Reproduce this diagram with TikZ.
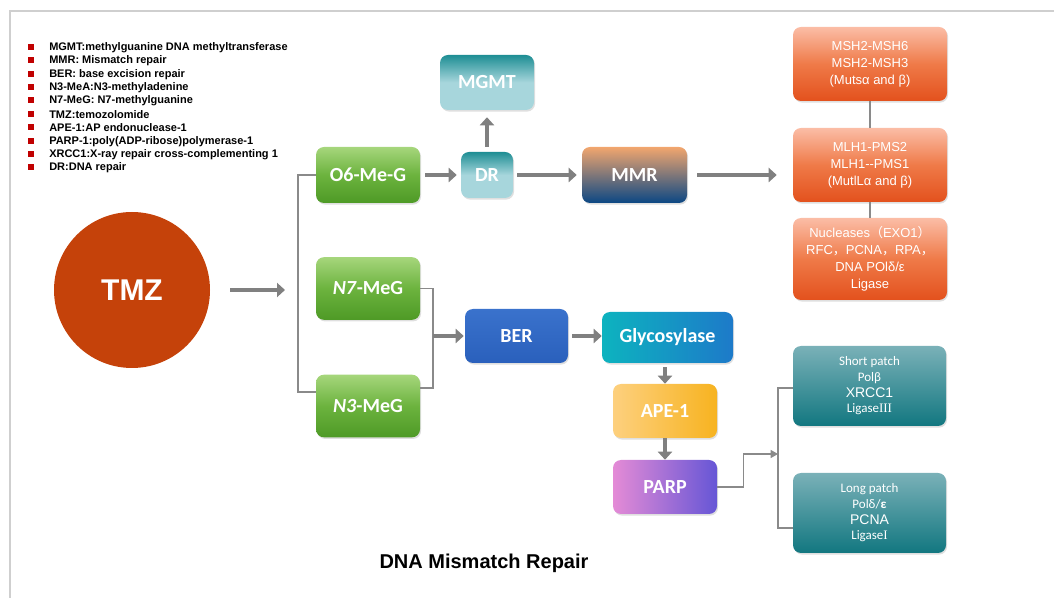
\documentclass[tikz,border=0pt]{standalone}
\usepackage{fontspec}
\setmainfont{Liberation Sans}
\newfontfamily\calib{Carlito}
\newfontfamily\arialf{Liberation Sans}
\newfontfamily\cjk{Noto Sans CJK SC}
\newfontfamily\serifrm{Liberation Serif}
\usepackage{xcolor}
\usepackage{tikz}
\usetikzlibrary{arrows.meta,shadows,calc}
\usetikzlibrary{positioning}

\definecolor{arrowgray}{HTML}{808080}
\definecolor{linegray}{HTML}{8A8A8A}
\definecolor{framegray}{HTML}{CFCFCF}
\definecolor{tmzred}{HTML}{C5420A}
\definecolor{legred}{HTML}{C00000}
\definecolor{greenT}{HTML}{A6D67C}
\definecolor{greenM}{HTML}{6CB33E}
\definecolor{greenB}{HTML}{4E9A26}
\definecolor{tealD}{HTML}{1E8E94}
\definecolor{tealL}{HTML}{A7D6DC}
\definecolor{mmrT}{HTML}{F2A66E}
\definecolor{mmrB}{HTML}{0B4784}
\definecolor{berT}{HTML}{3A72CC}
\definecolor{berB}{HTML}{2A60BC}
\definecolor{glyL}{HTML}{0DB3BF}
\definecolor{glyR}{HTML}{1D7AC9}
\definecolor{apeL}{HTML}{FDD07E}
\definecolor{apeR}{HTML}{F7B320}
\definecolor{parpL}{HTML}{E48BD6}
\definecolor{parpR}{HTML}{6656D6}
\definecolor{orgT}{HTML}{FBBDA6}
\definecolor{orgM}{HTML}{EF7A48}
\definecolor{orgB}{HTML}{E3511D}
\definecolor{patchT}{HTML}{7AB1B8}
\definecolor{patchB}{HTML}{127780}

\begin{document}
\begin{tikzpicture}[x=0.75pt,y=0.75pt,yscale=-1,xscale=1,
  box/.style={rectangle, rounded corners=6pt, inner sep=0pt, text=white,
    font=\calib\bfseries\fontsize{15}{18}\selectfont,
    drop shadow={opacity=0.25,shadow xshift=0.8pt,shadow yshift=-1.2pt}},
  greenbox/.style={box, top color=greenT, bottom color=greenB, middle color=greenM,
    minimum width=78pt, minimum height=47pt},
  tealbox/.style={box, top color=tealD, bottom color=tealL, middle color=tealL},
  orangebox/.style={box, top color=orgT, bottom color=orgB, middle color=orgM,
    minimum width=115.5pt, align=center, font=\arialf\fontsize{9.75}{12.75}\selectfont},
  patchbox/.style={box, top color=patchT, bottom color=patchB,
    minimum width=114.75pt, minimum height=60pt, align=center,
    font=\calib\fontsize{9.75}{11.7}\selectfont},
  fatarrow/.style={draw=arrowgray, line width=3.6pt, -{Triangle[length=6pt,width=10.5pt]}},
  thinline/.style={draw=linegray, line width=0.9pt},
  legbullet/.style={rectangle, fill=legred, minimum size=4.5pt, inner sep=0pt},
  legtext/.style={inner sep=0.75pt, font=\bfseries\fontsize{8.25}{10}\selectfont}]
\useasboundingbox (0,0) rectangle (1054,598);

%Straight Lines (frame)
\draw [framegray, line width=1.2pt] (10,598) -- (10,11) -- (1054,11) ;

% Legend
\foreach \legtxt [count=\i] in {{MGMT:methylguanine DNA methyltransferase},{MMR: Mismatch repair},
  {BER: base excision repair},{N3-MeA:N3-methyladenine},{N7-MeG: N7-methylguanine},
  {TMZ:temozolomide},{APE-1:AP endonuclease-1},{PARP-1:poly(ADP-ribose)polymerase-1},
  {XRCC1:X-ray repair cross-complementing 1},{DR:DNA repair}}{
  \node [legbullet] (bul\i) at (31,{33.5+13.4*\i}) {};
  \node [legtext, anchor=west] (leg\i) at (48,{34+13.4*\i}) {\legtxt};
}

%Shape: Circle
\node [circle, fill=tmzred, minimum size=117pt, inner sep=0pt, text=white,
  font=\bfseries\fontsize{22.5}{27}\selectfont] (tmz) at (132,290) {TMZ};

%Shape: Rounded Rects
\node [greenbox, minimum height=42pt] (o6) at (368,175) {O6-Me-G};
\node [greenbox] (n7) at (368,288.5) {\textit{N7}-MeG};
\node [greenbox] (n3) at (368,406) {\textit{N3}-MeG};
\node [tealbox, minimum width=39pt, minimum height=34.5pt] (dr) at (487,175) {DR};
\node [tealbox, minimum width=70.5pt, minimum height=41.25pt] (mgmt) at (487,82.5) {MGMT};
\node [box, top color=mmrT, bottom color=mmrB, minimum width=78.75pt, minimum height=42pt] (mmr) at (634.5,175) {MMR};
\node [box, top color=berT, bottom color=berB, minimum width=77.25pt, minimum height=40.5pt] (ber) at (516.5,336) {BER};
\node [box, left color=glyL, right color=glyR, minimum width=98.25pt, minimum height=38.25pt] (glyco) at (667.5,337.5) {Glycosylase};
\node [box, left color=apeL, right color=apeR, minimum width=78pt, minimum height=40.5pt] (ape) at (665,411) {APE-1};
\node [box, left color=parpL, right color=parpR, minimum width=78pt, minimum height=40.5pt] (parp) at (665,487) {PARP};

% Text Node (MMR proteins)
\node [orangebox, minimum height=55.5pt] (msh) at (870,64) {MSH2-MSH6\\MSH2-MSH3\\(Mutsα and β)};
\node [orangebox, minimum height=55.5pt] (mlh) at (870,165) {MLH1-PMS2\\MLH1--PMS1\\(MutlLα and β)};
\node [orangebox, minimum height=61.5pt] (nucl) at (870,259)
  {Nucleases{\cjk （}EXO1{\cjk ）}\\RFC{\cjk ，}PCNA{\cjk ，}RPA{\cjk ，}\\DNA POlδ/ε\\Ligase};

% Text Node (BER patches)
\node [patchbox] (short) at (869.5,386)
  {Short patch\\Polβ\\{\arialf\fontsize{10.5}{11.7}\selectfont XRCC1}\\Ligase{\serifrm III}};
\node [patchbox] (long) at (869.5,513)
  {Long patch\\Polδ/\textbf{ε}\\{\arialf\fontsize{10.5}{11.7}\selectfont PCNA}\\Ligase{\serifrm I}};

% Text Node (title)
\node [inner sep=0.75pt, font=\bfseries\fontsize{15}{18}\selectfont] (title) at (484,563) {DNA Mismatch Repair};

%Straight Lines (fork and joins)
\coordinate (forkM) at (298,290);
\coordinate (forkT) at (298,175);
\coordinate (forkB) at (298,392);
\coordinate (joinT) at (433,288.5);
\coordinate (joinB) at (433,388);
\coordinate (joinM) at (433,336);
\coordinate (patchM) at (778,454);
\coordinate (patchT) at (778,388);
\coordinate (patchB) at (778,528);

\draw [thinline] (o6.west) -- (forkT) -- (forkB) -- (forkB -| n3.west) ;
\draw [thinline] (n7.east) -- (joinT) -- (joinB) -- (joinB -| n3.east) ;
\draw [thinline] (short.west |- patchT) -- (patchT) -- (patchB) -- (patchB -| long.west) ;
\draw [thinline] (msh) -- (mlh) ;
\draw [thinline] (mlh) -- (nucl) ;
\draw [thinline, -{Triangle[length=5.5pt,width=6pt]}] (parp.east) -- ++(26,0) |- (patchM) ;

%Arrows
\draw [fatarrow, shorten <=15pt, shorten >=9.75pt] (tmz.east) -- (forkM) ;
\draw [fatarrow, shorten <=3.75pt, shorten >=3pt] (o6) -- (dr) ;
\draw [fatarrow, shorten <=3.75pt, shorten >=5.25pt] (dr) -- (mgmt) ;
\draw [fatarrow, shorten <=3pt, shorten >=3.75pt] (dr) -- (mmr) ;
\draw [fatarrow, shorten <=7.5pt, shorten >=12pt] (mmr.east) -- (mmr.east -| mlh.west) ;
\draw [fatarrow, shorten >=0.75pt] (joinM) -- (joinM -| ber.west) ;
\draw [fatarrow, shorten <=3pt] (ber.east) -- (ber.east -| glyco.west) ;
\draw [fatarrow, shorten <=3pt] (ape.north |- glyco.south) -- (ape.north) ;
\draw [fatarrow] (ape) -- (parp) ;

\end{tikzpicture}
\end{document}
